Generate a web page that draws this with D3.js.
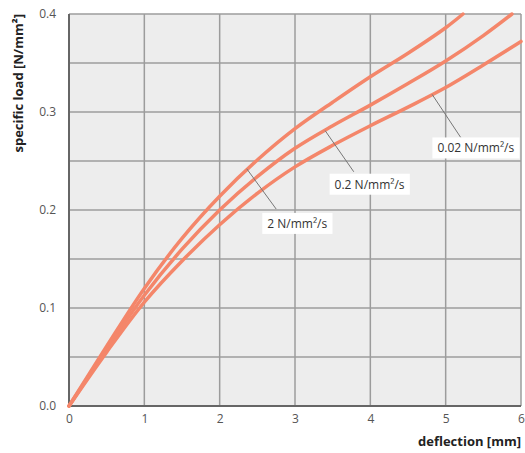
<!DOCTYPE html>
<html>
<head>
<meta charset="utf-8">
<script src="https://cdn.jsdelivr.net/npm/d3@7"></script>
<style>
  body { margin: 0; background: #fff; }
  svg { font-family: "Open Sans", "Noto Sans", sans-serif; }
</style>
</head>
<body>
<div id="root"></div>
<script>
// deflection [mm]
var xs2   = [0, 0.5, 1, 1.5, 2, 2.5, 3, 3.5, 4, 4.5, 5, 5.23];
var load2 = [0, 0.061, 0.120, 0.171, 0.214, 0.251, 0.283, 0.310, 0.336, 0.360, 0.386, 0.4];

var xs02   = [0, 0.5, 1, 1.5, 2, 2.5, 3, 3.5, 4, 4.5, 5, 5.5, 5.88];
var load02 = [0, 0.058, 0.113, 0.160, 0.200, 0.234, 0.263, 0.286, 0.307, 0.329, 0.352, 0.378, 0.4];

var xs002   = [0, 0.5, 1, 1.5, 2, 2.5, 3, 3.5, 4, 4.5, 5, 5.5, 6];
var load002 = [0, 0.055, 0.106, 0.148, 0.185, 0.217, 0.244, 0.266, 0.286, 0.305, 0.325, 0.348, 0.372];

var xTicks = [0, 1, 2, 3, 4, 5, 6];
var yTicks = [0, 0.1, 0.2, 0.3, 0.4];
var yGrid  = [0.05, 0.1, 0.15, 0.2, 0.25, 0.3, 0.35, 0.4];

// labels: [text, curve point x, y, leader end x, y, box centre x, y] in data units
var labels = [
  ["2 N/mm\u00b2/s",    2.36, 0.242, 2.75, 0.201, 3.03, 0.186],
  ["0.2 N/mm\u00b2/s",  3.40, 0.281, 3.78, 0.239, 3.99, 0.226],
  ["0.02 N/mm\u00b2/s", 4.82, 0.318, 5.20, 0.274, 5.40, 0.263]
];

var width = 525, height = 453;
var pLeft = 69, pRight = 521, pTop = 14, pBottom = 406;

var svg = d3.select("#root").append("svg")
  .attr("width", width).attr("height", height);

var x = d3.scaleLinear().domain([0, 6]).range([pLeft, pRight]);
var y = d3.scaleLinear().domain([0, 0.4]).range([pBottom, pTop]);

svg.append("rect")
  .attr("x", pLeft).attr("y", pTop)
  .attr("width", pRight - pLeft).attr("height", pBottom - pTop)
  .attr("fill", "#ededed");

// grid
svg.append("g").selectAll("line").data(xTicks.slice(1)).enter().append("line")
  .attr("x1", d => x(d)).attr("x2", d => x(d))
  .attr("y1", pTop).attr("y2", pBottom)
  .attr("stroke", "#9c9c9c").attr("stroke-width", 1.5);

svg.append("g").selectAll("line").data(yGrid).enter().append("line")
  .attr("x1", pLeft).attr("x2", pRight)
  .attr("y1", d => y(d)).attr("y2", d => y(d))
  .attr("stroke", "#9c9c9c").attr("stroke-width", 1.5);

// axes
var xAxis = d3.axisBottom(x).tickValues(xTicks).tickSize(0).tickPadding(8)
  .tickFormat(d3.format("d"));
var yAxis = d3.axisLeft(y).tickValues(yTicks).tickSize(0).tickPadding(13)
  .tickFormat(d3.format(".1f"));

var gx = svg.append("g").attr("transform", "translate(0," + pBottom + ")").call(xAxis);
var gy = svg.append("g").attr("transform", "translate(" + pLeft + ",0)").call(yAxis);
[gx, gy].forEach(function (g) {
  g.select(".domain").remove();
  g.selectAll("text").attr("fill", "#555").style("font-size", "12px")
    .style("font-family", "'Open Sans', sans-serif");
});

svg.append("line").attr("x1", pLeft).attr("x2", pLeft).attr("y1", pTop).attr("y2", pBottom + 1)
  .attr("stroke", "#666").attr("stroke-width", 2);
svg.append("line").attr("x1", pLeft - 1).attr("x2", pRight).attr("y1", pBottom).attr("y2", pBottom)
  .attr("stroke", "#666").attr("stroke-width", 2);

// curves
var line = d3.line().x(d => x(d[0])).y(d => y(d[1])).curve(d3.curveCatmullRom.alpha(0.5));
[[xs2, load2], [xs02, load02], [xs002, load002]].forEach(function (s) {
  svg.append("path")
    .datum(d3.zip(s[0], s[1]))
    .attr("d", line)
    .attr("fill", "none")
    .attr("stroke", "#f4866a")
    .attr("stroke-width", 3.5)
    .attr("stroke-linecap", "round");
});

// labels
labels.forEach(function (l) {
  svg.append("line")
    .attr("x1", x(l[1])).attr("y1", y(l[2]))
    .attr("x2", x(l[3])).attr("y2", y(l[4]))
    .attr("stroke", "#777").attr("stroke-width", 1);
  var t = svg.append("text")
    .attr("x", x(l[5])).attr("y", y(l[6]))
    .attr("text-anchor", "middle").attr("dy", "0.35em")
    .attr("fill", "#333").style("font-size", "12px")
    .text(l[0]);
  var bb = t.node().getBBox();
  svg.insert("rect", function () { return t.node(); })
    .attr("x", bb.x - 5).attr("y", bb.y - 2)
    .attr("width", bb.width + 10).attr("height", bb.height + 4)
    .attr("fill", "#fff");
});

// titles
svg.append("text")
  .attr("x", pRight).attr("y", 446)
  .attr("text-anchor", "end")
  .attr("fill", "#222").style("font-size", "13px").style("font-weight", "bold")
  .text("deflection [mm]");

svg.append("text")
  .attr("transform", "translate(23," + pTop + ") rotate(-90)")
  .attr("text-anchor", "end")
  .attr("fill", "#222").style("font-size", "13px").style("font-weight", "bold")
  .text("specific load [N/mm\u00b2]");
</script>
</body>
</html>
